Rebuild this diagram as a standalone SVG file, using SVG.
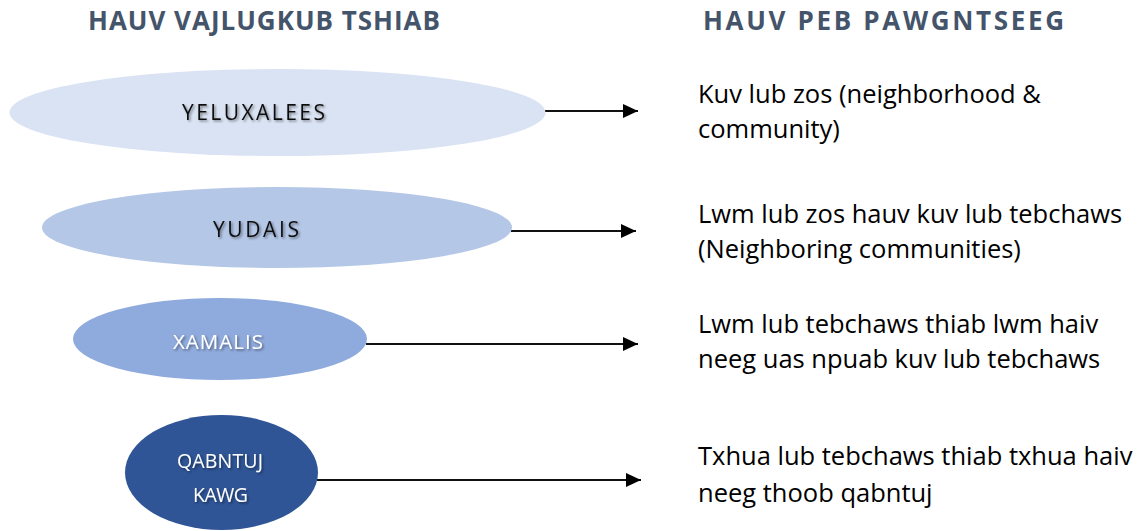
<svg xmlns="http://www.w3.org/2000/svg" width="1142" height="531" viewBox="0 0 1142 531">
<style>
.title{font-family:"Open Sans","Noto Sans",sans-serif;font-weight:700;font-size:26px;fill:#44546a}
.desc{font-family:"Open Sans","Noto Sans",sans-serif;font-size:25.5px;fill:#000}
.lbl{font-family:"Open Sans","Noto Sans",sans-serif;font-size:21px;filter:url(#sh)}
.sm{font-size:19.5px}
.dark{fill:#111}
.light{fill:#fff}
.conn{stroke:#111;stroke-width:2;fill:none;marker-end:url(#arr)}
</style>
<defs>
<filter id="sh" x="-10%" y="-30%" width="130%" height="160%">
<feDropShadow dx="1.5" dy="1.5" stdDeviation="1" flood-color="#000" flood-opacity="0.45"/>
</filter>
<marker id="arr" markerUnits="userSpaceOnUse" markerWidth="16" markerHeight="15" refX="15" refY="7" orient="auto">
<path d="M0,0 L15,7 L0,14 z" fill="#000"/>
</marker>
</defs>
<rect width="1142" height="531" fill="#fff"/>
<text class="title" x="88" y="30" textLength="352">HAUV VAJLUGKUB TSHIAB</text>
<text class="title" x="703" y="30" textLength="361">HAUV PEB PAWGNTSEEG</text>
<g id="connectors">
<line class="conn" x1="545" y1="111" x2="638" y2="111"/>
<line class="conn" x1="511" y1="231" x2="636" y2="231"/>
<line class="conn" x1="366" y1="344" x2="638" y2="344"/>
<line class="conn" x1="317" y1="480" x2="641" y2="480"/>
</g>
<g id="node-yeluxalees">
<ellipse cx="277.5" cy="112.5" rx="268" ry="43.5" fill="#dae3f3"/>
<text class="lbl dark" x="182" y="120" textLength="143">YELUXALEES</text>
</g>
<g id="node-yudais">
<ellipse cx="277" cy="227.5" rx="235" ry="40.5" fill="#b4c7e7"/>
<text class="lbl dark" x="213" y="237" textLength="86">YUDAIS</text>
</g>
<g id="node-xamalis">
<ellipse cx="220" cy="339" rx="147" ry="41" fill="#8faadc"/>
<text class="lbl light" x="173" y="349" textLength="90" style="font-size:20.5px">XAMALIS</text>
</g>
<g id="node-qabntuj">
<ellipse cx="221.5" cy="472.5" rx="96.5" ry="57.5" fill="#2f5597"/>
<text class="lbl sm light" x="177" y="468" textLength="86">QABNTUJ</text>
<text class="lbl sm light" x="193" y="502" textLength="55">KAWG</text>
</g>
<g id="desc-1">
<text class="desc" x="698" y="103">Kuv lub zos (neighborhood &amp;</text>
<text class="desc" x="698" y="138">community)</text>
</g>
<g id="desc-2">
<text class="desc" x="698" y="223">Lwm lub zos hauv kuv lub tebchaws</text>
<text class="desc" x="698" y="258">(Neighboring communities)</text>
</g>
<g id="desc-3">
<text class="desc" x="698" y="333">Lwm lub tebchaws thiab lwm haiv</text>
<text class="desc" x="698" y="368">neeg uas npuab kuv lub tebchaws</text>
</g>
<g id="desc-4">
<text class="desc" x="698" y="465">Txhua lub tebchaws thiab txhua haiv</text>
<text class="desc" x="698" y="502">neeg thoob qabntuj</text>
</g>
</svg>
